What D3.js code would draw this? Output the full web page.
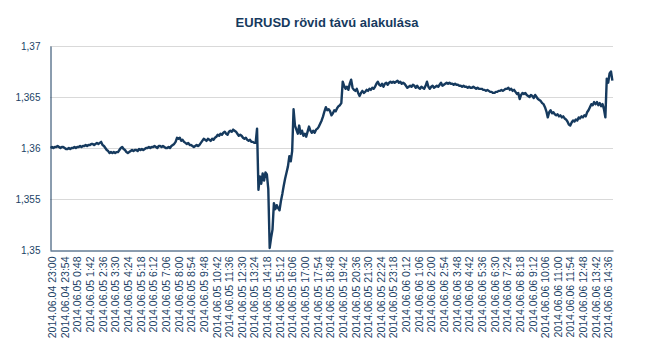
<!DOCTYPE html>
<html>
<head>
<meta charset="utf-8">
<script src="https://cdn.jsdelivr.net/npm/d3@7"></script>
<style>
  html, body { margin: 0; padding: 0; background: #ffffff; }
  svg { display: block; font-family: "Liberation Sans", Arial, sans-serif; }
</style>
</head>
<body>
<svg id="chart" width="645" height="350"></svg>
<script>
// EUR/USD quotes, one sample every 6 minutes starting 2014.06.04 22:54
const sampleStart = "2014.06.04 22:54";
const sampleStepMinutes = 6;
const eurusd = [
  1.3600,
  1.3601, 1.3600, 1.3601, 1.3601, 1.3602, 1.3601, 1.3600, 1.3601, 1.3601,
  1.3600, 1.3599, 1.3599, 1.3600, 1.3599, 1.3600, 1.3600, 1.3601, 1.3600,
  1.3601, 1.3601, 1.3602, 1.3601, 1.3602, 1.3602, 1.3603, 1.3602, 1.3603,
  1.3603, 1.3604, 1.3604, 1.3603, 1.3604, 1.3605, 1.3604, 1.3605, 1.3606,
  1.3603, 1.3602, 1.3600, 1.3598, 1.3597, 1.3595, 1.3596, 1.3595, 1.3596,
  1.3595, 1.3596, 1.3596, 1.3598, 1.3600, 1.3601, 1.3599, 1.3598, 1.3596,
  1.3595, 1.3596, 1.3597, 1.3598, 1.3597, 1.3598, 1.3598, 1.3597, 1.3599,
  1.3598, 1.3599, 1.3598, 1.3599, 1.3600, 1.3600, 1.3601, 1.3600, 1.3601,
  1.3601, 1.3602, 1.3601, 1.3600, 1.3602, 1.3602, 1.3601, 1.3602, 1.3601,
  1.3600, 1.3600, 1.3601, 1.3600, 1.3602, 1.3603, 1.3604, 1.3606, 1.3610,
  1.3609, 1.3610, 1.3607, 1.3608, 1.3606, 1.3605, 1.3604, 1.3605, 1.3603,
  1.3603, 1.3602, 1.3601, 1.3602, 1.3603, 1.3602, 1.3603, 1.3605, 1.3607,
  1.3609, 1.3608, 1.3607, 1.3609, 1.3608, 1.3607, 1.3609, 1.3608, 1.3610,
  1.3611, 1.3613, 1.3612, 1.3614, 1.3613, 1.3615, 1.3616, 1.3614, 1.3613,
  1.3616, 1.3617, 1.3616, 1.3618, 1.3617, 1.3616, 1.3614, 1.3612, 1.3613,
  1.3612, 1.3610, 1.3609, 1.3610, 1.3608, 1.3607, 1.3608, 1.3606, 1.3606,
  1.3605, 1.3605, 1.3619, 1.3559, 1.3572, 1.3565, 1.3575, 1.3568, 1.3576,
  1.3574, 1.3560, 1.3502, 1.3512, 1.3520, 1.3546, 1.3540, 1.3544, 1.3541,
  1.3539, 1.3548, 1.3555, 1.3563, 1.3570, 1.3576, 1.3582, 1.3592, 1.3587,
  1.3597, 1.3638, 1.3622, 1.3618, 1.3614, 1.3622, 1.3614, 1.3617, 1.3612,
  1.3614, 1.3611, 1.3616, 1.3621, 1.3617, 1.3615, 1.3617, 1.3615, 1.3618,
  1.3619, 1.3621, 1.3624, 1.3627, 1.3631, 1.3636, 1.3640, 1.3637, 1.3638,
  1.3636, 1.3632, 1.3634, 1.3637, 1.3636, 1.3639, 1.3641, 1.3642, 1.3644,
  1.3665, 1.3661, 1.3658, 1.3660, 1.3657, 1.3663, 1.3667, 1.3659, 1.3657,
  1.3656, 1.3658, 1.3654, 1.3651, 1.3654, 1.3656, 1.3654, 1.3655, 1.3657,
  1.3656, 1.3658, 1.3657, 1.3659, 1.3658, 1.3660, 1.3663, 1.3665, 1.3662,
  1.3661, 1.3663, 1.3660, 1.3663, 1.3664, 1.3662, 1.3664, 1.3665, 1.3664,
  1.3665, 1.3664, 1.3665, 1.3666, 1.3664, 1.3665, 1.3663, 1.3664, 1.3663,
  1.3661, 1.3659, 1.3660, 1.3661, 1.3660, 1.3662, 1.3661, 1.3659, 1.3661,
  1.3659, 1.3658, 1.3660, 1.3659, 1.3658, 1.3661, 1.3665, 1.3660, 1.3658,
  1.3660, 1.3661, 1.3659, 1.3660, 1.3661, 1.3660, 1.3662, 1.3664, 1.3661,
  1.3662, 1.3663, 1.3664, 1.3663, 1.3664, 1.3663, 1.3663, 1.3662, 1.3663,
  1.3662, 1.3662, 1.3661, 1.3661, 1.3660, 1.3661, 1.3660, 1.3660, 1.3659,
  1.3660, 1.3659, 1.3659, 1.3660, 1.3659, 1.3658, 1.3659, 1.3658, 1.3658,
  1.3658, 1.3657, 1.3657, 1.3656, 1.3657, 1.3656, 1.3655, 1.3655, 1.3654,
  1.3654, 1.3655, 1.3655, 1.3656, 1.3656, 1.3657, 1.3656, 1.3657, 1.3658,
  1.3658, 1.3659, 1.3657, 1.3658, 1.3656, 1.3657, 1.3655, 1.3653, 1.3654,
  1.3648, 1.3652, 1.3654, 1.3653, 1.3654, 1.3652, 1.3651, 1.3650, 1.3652,
  1.3651, 1.3649, 1.3652, 1.3650, 1.3648, 1.3647, 1.3646, 1.3644, 1.3643,
  1.3640, 1.3636, 1.3630, 1.3635, 1.3637, 1.3634, 1.3635, 1.3633, 1.3632,
  1.3633, 1.3631, 1.3632, 1.3630, 1.3631, 1.3629, 1.3628, 1.3626, 1.3623,
  1.3622, 1.3625, 1.3627, 1.3626, 1.3628, 1.3627, 1.3630, 1.3629, 1.3631,
  1.3630, 1.3632, 1.3631, 1.3635, 1.3637, 1.3640, 1.3643, 1.3642, 1.3645,
  1.3643, 1.3645, 1.3642, 1.3644, 1.3641, 1.3643, 1.3638, 1.3630, 1.3668,
  1.3664, 1.3673, 1.3675, 1.3666
];

// category labels along the time axis (every 54 minutes)
const tickLabels = [
  "2014.06.04 23:00", "2014.06.04 23:54", "2014.06.05 0:48", "2014.06.05 1:42",
  "2014.06.05 2:36", "2014.06.05 3:30", "2014.06.05 4:24", "2014.06.05 5:18",
  "2014.06.05 6:12", "2014.06.05 7:06", "2014.06.05 8:00", "2014.06.05 8:54",
  "2014.06.05 9:48", "2014.06.05 10:42", "2014.06.05 11:36", "2014.06.05 12:30",
  "2014.06.05 13:24", "2014.06.05 14:18", "2014.06.05 15:12", "2014.06.05 16:06",
  "2014.06.05 17:00", "2014.06.05 17:54", "2014.06.05 18:48", "2014.06.05 19:42",
  "2014.06.05 20:36", "2014.06.05 21:30", "2014.06.05 22:24", "2014.06.05 23:18",
  "2014.06.06 0:12", "2014.06.06 1:06", "2014.06.06 2:00", "2014.06.06 2:54",
  "2014.06.06 3:48", "2014.06.06 4:42", "2014.06.06 5:36", "2014.06.06 6:30",
  "2014.06.06 7:24", "2014.06.06 8:18", "2014.06.06 9:12", "2014.06.06 10:06",
  "2014.06.06 11:00", "2014.06.06 11:54", "2014.06.06 12:48", "2014.06.06 13:42",
  "2014.06.06 14:36"
];

const yTicks = [1.35, 1.355, 1.36, 1.365, 1.37];
const yDomain = [1.35, 1.37];
const xDomain = ["2014.06.04 22:51:30", "2014.06.06 14:56:36"];
const chartTitle = "EURUSD rövid távú alakulása";

const navy = "#163a5e";
const labelColor = "#1b3f66";
const gridColor = "#d9d9d9";

const parseMin = d3.timeParse("%Y.%m.%d %H:%M");
const parseSec = d3.timeParse("%Y.%m.%d %H:%M:%S");
const t0 = parseMin(sampleStart);
const series = eurusd.map((v, i) => ({ t: d3.timeMinute.offset(t0, i * sampleStepMinutes), v }));
const tickDates = tickLabels.map(parseMin);

const margin = { left: 50, right: 32, top: 46, bottom: 100 };
const W = 645, H = 350;
const svg = d3.select("#chart");

const x = d3.scaleTime()
  .domain(xDomain.map(parseSec))
  .range([margin.left, W - margin.right]);
const y = d3.scaleLinear()
  .domain(yDomain)
  .range([H - margin.bottom, margin.top]);

const huLocale = d3.formatLocale({ decimal: ",", thousands: " ", grouping: [3], currency: ["", " Ft"] });
const fmt = huLocale.format(".4~f");

// title
svg.append("text")
  .attr("x", 327)
  .attr("y", 27)
  .attr("text-anchor", "middle")
  .attr("font-size", 13)
  .attr("font-weight", "bold")
  .attr("fill", navy)
  .text(chartTitle);

// horizontal gridlines
svg.append("g")
  .selectAll("line")
  .data(yTicks.filter(d => d > yDomain[0]))
  .join("line")
  .attr("x1", x.range()[0])
  .attr("x2", x.range()[1])
  .attr("y1", d => Math.round(y(d)) + 0.5)
  .attr("y2", d => Math.round(y(d)) + 0.5)
  .attr("stroke", gridColor)
  .attr("stroke-width", 1);

// y axis
const yAxis = svg.append("g")
  .attr("transform", `translate(${margin.left + 0.5},0)`)
  .call(d3.axisLeft(y).tickValues(yTicks).tickFormat(fmt).tickSize(0).tickPadding(10));
yAxis.select(".domain").attr("stroke", navy);
yAxis.selectAll("text")
  .attr("font-size", 10)
  .attr("font-family", "Liberation Sans, Arial, sans-serif")
  .attr("fill", labelColor);

// price line
const line = d3.line()
  .x(d => x(d.t))
  .y(d => y(d.v));
svg.append("path")
  .datum(series)
  .attr("d", line)
  .attr("fill", "none")
  .attr("stroke", navy)
  .attr("stroke-width", 2.4)
  .attr("stroke-linejoin", "round");

// x axis with rotated time labels
const xAxis = svg.append("g")
  .attr("transform", `translate(0,${Math.round(y(yDomain[0])) + 0.5})`)
  .call(d3.axisBottom(x).tickValues(tickDates).tickFormat((d, i) => tickLabels[i]).tickSize(0).tickPadding(0));
xAxis.select(".domain").attr("stroke", navy);
xAxis.selectAll(".tick text")
  .attr("font-size", 10.5)
  .attr("font-family", "Liberation Sans, Arial, sans-serif")
  .attr("fill", labelColor)
  .attr("text-anchor", "end")
  .attr("transform", "rotate(-90)")
  .attr("x", -6)
  .attr("y", 0)
  .attr("dy", "0.35em");
</script>
</body>
</html>
